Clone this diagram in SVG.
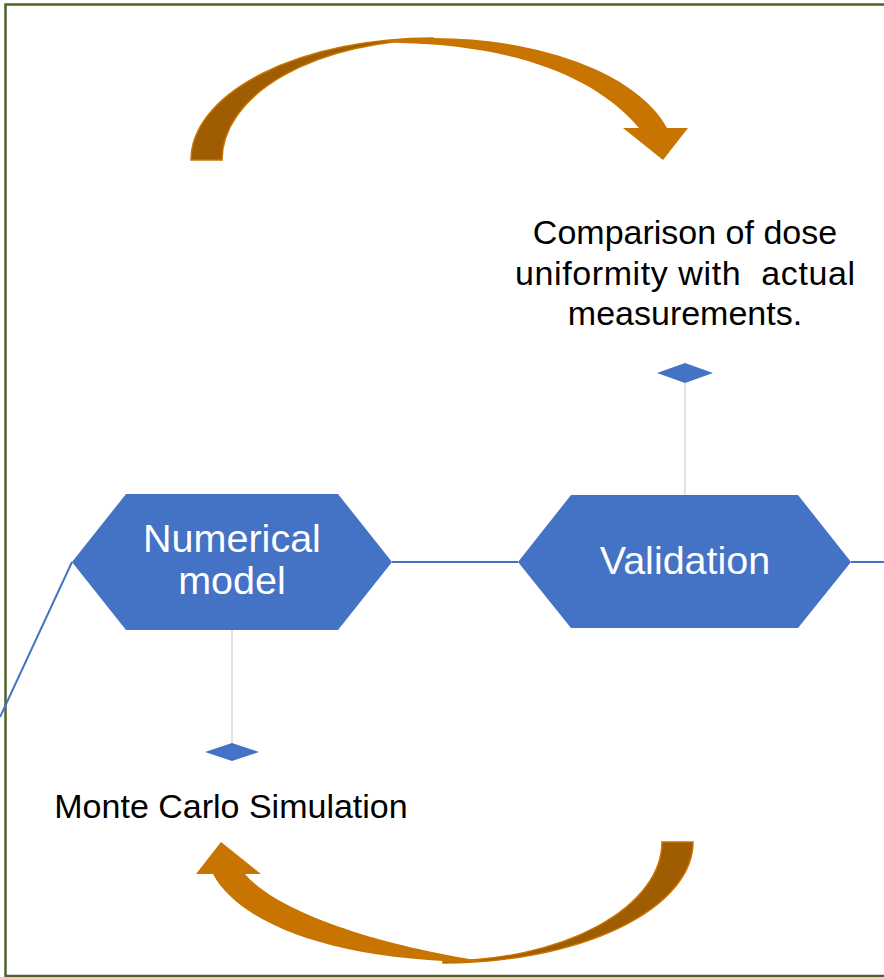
<svg xmlns="http://www.w3.org/2000/svg" width="884" height="977" viewBox="0 0 884 977">
  <style>
    .hex { fill: #4472C4; }
    .dia { fill: #4472C4; }
    .link { stroke: #4472C4; stroke-width: 2; fill: none; }
    .stem { stroke: #D9D9D9; stroke-width: 1.5; fill: none; }
    .lbl { font-family: "Liberation Sans", Arial, sans-serif; font-size: 39.5px; fill: #FFFFFF; text-anchor: middle; }
    .note { font-family: "Liberation Sans", Arial, sans-serif; font-size: 34px; fill: #000000; text-anchor: middle; }
    .front { fill: #C87400; }
    .back { fill: #A05C00; stroke: #C87400; stroke-width: 1.5; }
  </style>

  <rect width="884" height="977" fill="#FFFFFF"/>
  <!-- frame -->
  <rect x="5.5" y="4.5" width="900" height="971.5" fill="none" stroke="#4F6228" stroke-width="2.5"/>

  <!-- connectors -->
  <g id="connectors">
    <line class="link" x1="0" y1="717" x2="72" y2="562"/>
    <line class="link" x1="392" y1="562" x2="518" y2="562"/>
    <line class="link" x1="851" y1="562" x2="884" y2="562"/>
    <line class="stem" x1="232" y1="630" x2="232" y2="743"/>
    <line class="stem" x1="685" y1="383" x2="685" y2="495"/>
  </g>

  <!-- curved arrow, top: ribbon back face on the left, front face with head on the right -->
  <g id="arrow-top">
    <path class="back" d="M191,160 A242,122 0 0 1 433,38 L433,40 A211,120 0 0 0 222,160 Z"/>
    <path class="front" d="M380,41 A242,122 0 0 1 667,128 L688,128 L663,160 L623,128 L639,128 C590,70 500,45 400,43 Z"/>
  </g>

  <!-- curved arrow, bottom: back face on the right, head on the left -->
  <g id="arrow-bottom">
    <path class="back" d="M693,842 A250,121 0 0 1 443,963 L443,961 A219,119 0 0 0 662,842 Z"/>
    <path class="front" d="M213,874 C240,925 340,963 490,962 C390,948 280,915 245,874 L261,874 L221,842 L196,874 Z"/>
  </g>

  <g id="node-numerical-model">
    <polygon class="hex" points="72,562 126,494 338,494 392,562 338,630 126,630"/>
    <text class="lbl" x="232" y="552">Numerical</text>
    <text class="lbl" x="232" y="594">model</text>
  </g>

  <g id="node-validation">
    <polygon class="hex" points="518,562 571,495 798,495 851,562 798,628 571,628"/>
    <text class="lbl" x="685" y="574">Validation</text>
  </g>

  <g id="detail-monte-carlo">
    <polygon class="dia" points="205,752 232,743 259,752 232,761"/>
    <text class="note" x="231" y="818">Monte Carlo Simulation</text>
  </g>

  <g id="detail-comparison">
    <polygon class="dia" points="657,373 685,363 713,373 685,383"/>
    <text class="note" x="685" y="244">Comparison of dose</text>
    <text class="note" x="685" y="285" xml:space="preserve" textLength="340" lengthAdjust="spacing">uniformity with  actual</text>
    <text class="note" x="685" y="325">measurements.</text>
  </g>
</svg>
